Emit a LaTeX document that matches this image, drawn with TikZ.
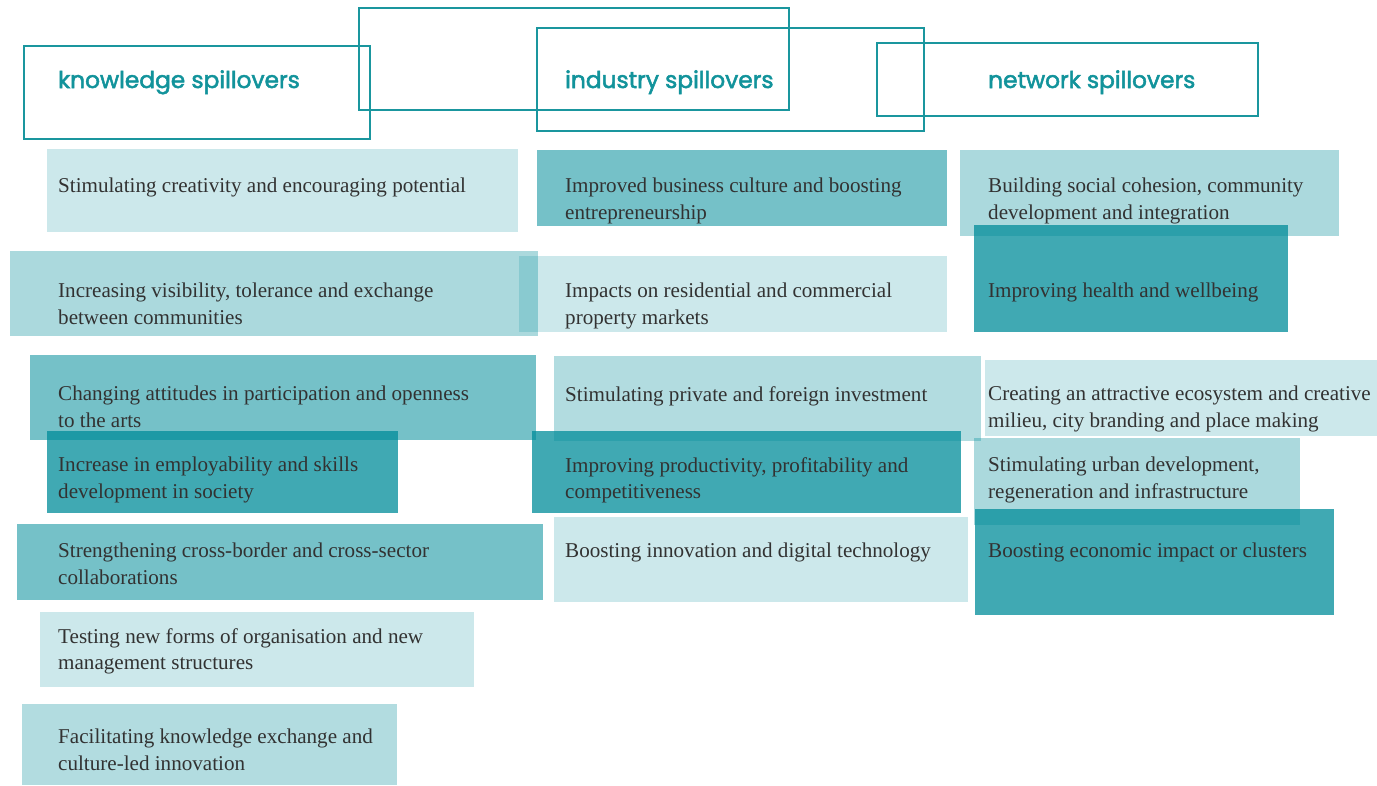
\documentclass[tikz,border=0pt]{standalone}
\usepackage{fontspec}
\setmainfont{Liberation Serif}
\newfontfamily\headfont[FakeBold=2.2]{Poppins}
\definecolor{tealbase}{RGB}{0,140,153}
\definecolor{headteal}{RGB}{18,147,155}
\definecolor{linet}{RGB}{26,150,158}
\definecolor{txt}{RGB}{50,50,50}
\newcommand\mybox[6]{\node[#1, anchor=north west, inner sep=0pt, outer sep=0pt, minimum width=#4pt, minimum height=#5pt] (#2) at (#3) {};}
\begin{document}
\begin{tikzpicture}[x=1pt,y=-1pt,
 box/.style={fill=tealbase, draw=none},
 lt/.style={box, fill opacity=0.2},
 ml/.style={box, fill opacity=0.33},
 mlb/.style={box, fill opacity=0.30},
 md/.style={box, fill opacity=0.54},
 dk/.style={box, fill opacity=0.75},
 hd/.style={draw=linet, line width=1.2pt, anchor=north west, inner sep=0pt, outer sep=0pt},
 ht/.style={font=\headfont\fontsize{23.3}{27}\selectfont, text=headteal, anchor=base west, inner sep=0pt},
 tx/.style={font=\fontsize{21.1}{26.5}\selectfont, text=txt, anchor=north west, inner sep=0pt, align=left},
]
\useasboundingbox (0,0) rectangle (1377,785);
% header frames
\node[hd, minimum width=346pt, minimum height=93pt] (r1) at (24,46) {};
\node[hd, minimum width=430pt, minimum height=102pt] (r2) at (359,8) {};
\node[hd, minimum width=387pt, minimum height=103pt] (r3) at (537,28) {};
\node[hd, minimum width=381pt, minimum height=73pt] (r4) at (877,43) {};
\node[ht] (h1) at (58,88) {knowledge spillovers};
\node[ht] (h2) at (565,88) {industry spillovers};
\node[ht] (h3) at (988,88) {network spillovers};
% boxes
\mybox{lt}{k1}{47,149}{471}{83}{}
\mybox{ml}{k2}{10,251}{528}{85}{}
\mybox{md}{k3}{30,355}{506}{85}{}
\mybox{dk}{k4}{47,431}{351}{82}{}
\mybox{md}{k5}{17,524}{526}{76}{}
\mybox{lt}{k6}{40,612}{434}{75}{}
\mybox{mlb}{k7}{22,704}{375}{81}{}
\mybox{md}{i1}{537,150}{410}{76}{}
\mybox{lt}{i2}{519,256}{428}{76}{}
\mybox{mlb}{i3}{554,356}{427}{85}{}
\mybox{dk}{i4}{532,431}{429}{82}{}
\mybox{lt}{i5}{554,517}{414}{85}{}
\mybox{ml}{n1}{960,150}{379}{86}{}
\mybox{dk}{n2}{974,225}{314}{107}{}
\mybox{lt}{n3}{985,360}{392}{76}{}
\mybox{ml}{n4}{974,438}{326}{87}{}
\mybox{dk}{n5}{975,509}{359}{106}{}
% texts
\node[tx] (tk1) at (58,178) {\rule{0pt}{14pt}Stimulating creativity and encouraging potential};
\node[tx] (tk2) at (58,283) {\rule{0pt}{14pt}Increasing visibility, tolerance and exchange\\between communities};
\node[tx] (tk3) at (58,386) {\rule{0pt}{14pt}Changing attitudes in participation and openness\\to the arts};
\node[tx] (tk4) at (58,457) {\rule{0pt}{14pt}Increase in employability and skills\\development in society};
\node[tx] (tk5) at (58,543) {\rule{0pt}{14pt}Strengthening cross-border and cross-sector\\collaborations};
\node[tx] (tk6) at (58,628) {\rule{0pt}{14pt}Testing new forms of organisation and new\\management structures};
\node[tx] (tk7) at (58,729) {\rule{0pt}{14pt}Facilitating knowledge exchange and\\culture-led innovation};
\node[tx] (ti1) at (565,178) {\rule{0pt}{14pt}Improved business culture and boosting\\entrepreneurship};
\node[tx] (ti2) at (565,283) {\rule{0pt}{14pt}Impacts on residential and commercial\\property markets};
\node[tx] (ti3) at (565,386) {\rule{0pt}{14pt}Stimulating private and foreign investment};
\node[tx] (ti4) at (565,457) {\rule{0pt}{14pt}Improving productivity, profitability and\\competitiveness};
\node[tx] (ti5) at (565,543) {\rule{0pt}{14pt}Boosting innovation and digital technology};
\node[tx] (tn1) at (988,178) {\rule{0pt}{14pt}Building social cohesion, community\\development and integration};
\node[tx] (tn2) at (988,283) {\rule{0pt}{14pt}Improving health and wellbeing};
\node[tx] (tn3) at (988,386) {\rule{0pt}{14pt}Creating an attractive ecosystem and creative\\milieu, city branding and place making};
\node[tx] (tn4) at (988,457) {\rule{0pt}{14pt}Stimulating urban development,\\regeneration and infrastructure};
\node[tx] (tn5) at (988,543) {\rule{0pt}{14pt}Boosting economic impact or clusters};
\end{tikzpicture}
\end{document}
